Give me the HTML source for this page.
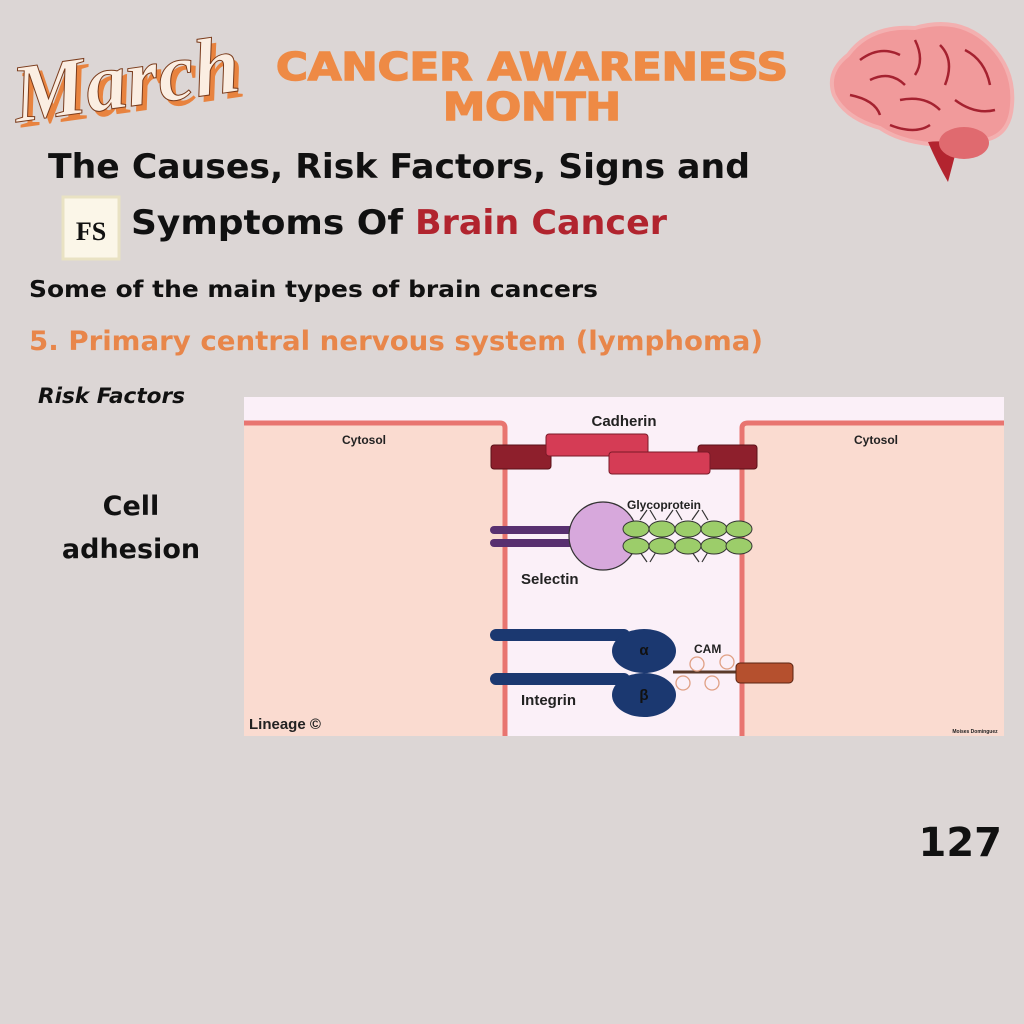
<!DOCTYPE html>
<html><head><meta charset="utf-8"><style>
html,body{margin:0;padding:0;background:#dcd6d5;}
body{width:1024px;height:1024px;overflow:hidden;position:relative;font-family:"Liberation Sans","DejaVu Sans",sans-serif;}
</style></head><body>
<svg width="1024" height="1024" viewBox="0 0 1024 1024" xmlns="http://www.w3.org/2000/svg" style="position:absolute;left:0;top:0">
<rect width="1024" height="1024" fill="#dcd6d5"/>
<text x="16" y="112" font-family="Liberation Serif,serif" font-style="italic" font-weight="bold" font-size="82" fill="#e8833f" transform="rotate(-8 130 80)">March</text>
<text x="12" y="106" font-family="Liberation Serif,serif" font-style="italic" font-weight="bold" font-size="82" fill="#fbeee2" stroke="#7a3b1b" stroke-width="1" transform="rotate(-8 130 80)">March</text>
<text x="532" y="80" text-anchor="middle" font-family="DejaVu Sans,sans-serif" font-weight="bold" font-size="38" fill="#ee8a45" stroke="#ee8a45" stroke-width="1.5" textLength="512" lengthAdjust="spacingAndGlyphs">CANCER AWARENESS</text>
<text x="532" y="120" text-anchor="middle" font-family="DejaVu Sans,sans-serif" font-weight="bold" font-size="38" fill="#ee8a45" stroke="#ee8a45" stroke-width="1.5" textLength="178" lengthAdjust="spacingAndGlyphs">MONTH</text>
<path d="M848 55 Q870 25 915 28 Q960 15 990 45 Q1015 70 1012 105 Q1010 135 985 140 L950 145 Q905 145 880 128 Q845 118 834 95 Q826 72 848 55Z" fill="#f19a9b" stroke="#f3b0b0" stroke-width="4"/>
<path d="M928 142 Q942 140 958 144 L948 182 Q938 165 928 142Z" fill="#b3242f"/>
<ellipse cx="964" cy="143" rx="25" ry="16" fill="#e06a6f"/>
<g fill="none" stroke="#a52230" stroke-width="2.5">
<path d="M860 60 Q880 45 900 55 M870 80 Q890 70 905 85 M915 40 Q925 60 915 75 M940 45 Q955 60 945 85 M965 50 Q985 60 990 85 M850 95 Q875 100 880 115 M900 100 Q925 95 940 110 M955 100 Q975 115 995 110 M890 125 Q915 135 930 125"/>
</g>
<text x="48" y="178" font-family="DejaVu Sans,sans-serif" font-weight="bold" font-size="34" fill="#111" textLength="702" lengthAdjust="spacingAndGlyphs">The Causes, Risk Factors, Signs and</text>
<rect x="63" y="197" width="56" height="62" fill="#fbf6e8" stroke="#e9e2c3" stroke-width="3"/>
<text x="91" y="240" text-anchor="middle" font-family="Liberation Serif,serif" font-weight="bold" font-size="26" fill="#111">FS</text>
<text x="131" y="234" font-family="DejaVu Sans,sans-serif" font-weight="bold" font-size="34" fill="#111" textLength="272" lengthAdjust="spacingAndGlyphs">Symptoms Of</text>
<text x="415" y="234" font-family="DejaVu Sans,sans-serif" font-weight="bold" font-size="34" fill="#b1242e" textLength="252" lengthAdjust="spacingAndGlyphs">Brain Cancer</text>
<text x="29" y="297" font-family="DejaVu Sans,sans-serif" font-weight="bold" font-size="23" fill="#111" textLength="569" lengthAdjust="spacingAndGlyphs">Some of the main types of brain cancers</text>
<text x="29" y="350" font-family="DejaVu Sans,sans-serif" font-weight="bold" font-size="27" fill="#e8864a" textLength="734" lengthAdjust="spacingAndGlyphs">5. Primary central nervous system (lymphoma)</text>
<text x="38" y="403" font-family="DejaVu Sans,sans-serif" font-style="italic" font-weight="bold" font-size="21" fill="#111" textLength="147" lengthAdjust="spacingAndGlyphs">Risk Factors</text>
<text x="131" y="515" text-anchor="middle" font-family="DejaVu Sans,sans-serif" font-weight="bold" font-size="27" fill="#111">Cell</text>
<text x="131" y="558" text-anchor="middle" font-family="DejaVu Sans,sans-serif" font-weight="bold" font-size="27" fill="#111">adhesion</text>
<rect x="244" y="397" width="760" height="339" fill="#fbf0f8"/>
<path d="M244 423 L500 423 Q505 423 505 428 L505 736 L244 736Z" fill="#fadbd0"/>
<path d="M244 423 L500 423 Q505 423 505 428 L505 736" fill="none" stroke="#e87570" stroke-width="5"/>
<path d="M1004 423 L748 423 Q742 423 742 428 L742 736 L1004 736Z" fill="#fadbd0"/>
<path d="M1004 423 L748 423 Q742 423 742 428 L742 736" fill="none" stroke="#e87570" stroke-width="5"/>
<text x="364" y="444" text-anchor="middle" font-size="12" font-weight="bold" fill="#222">Cytosol</text>
<text x="876" y="444" text-anchor="middle" font-size="12" font-weight="bold" fill="#222">Cytosol</text>
<text x="624" y="426" text-anchor="middle" font-size="15" font-weight="bold" fill="#222">Cadherin</text>
<rect x="491" y="445" width="60" height="24" rx="3" fill="#8e1f2c" stroke="#5a1018"/>
<rect x="698" y="445" width="59" height="24" rx="3" fill="#8e1f2c" stroke="#5a1018"/>
<rect x="546" y="434" width="102" height="22" rx="3" fill="#d53c55" stroke="#7a1a28"/>
<rect x="609" y="452" width="101" height="22" rx="3" fill="#d53c55" stroke="#7a1a28"/>
<rect x="490" y="526" width="92" height="8" rx="4" fill="#583070"/>
<rect x="490" y="539" width="92" height="8" rx="4" fill="#583070"/>
<circle cx="603" cy="536" r="34" fill="#d7a8dc" stroke="#333" stroke-width="1.2"/>
<text x="521" y="584" font-size="15" font-weight="bold" fill="#222">Selectin</text>
<text x="627" y="509" font-size="12" font-weight="bold" fill="#222">Glycoprotein</text>
<g stroke="#333" stroke-width="1.2"><path d="M640 520 L647 510 M656 520 L650 510 M666 520 L673 510 M682 520 L676 510 M692 520 L699 510 M708 520 L702 510 M640 552 L647 562 M656 552 L650 562 M692 552 L699 562 M708 552 L702 562"/></g>
<g fill="#9ccd6a" stroke="#333" stroke-width="1">
<ellipse cx="636" cy="529" rx="13" ry="8"/><ellipse cx="662" cy="529" rx="13" ry="8"/><ellipse cx="688" cy="529" rx="13" ry="8"/><ellipse cx="714" cy="529" rx="13" ry="8"/><ellipse cx="739" cy="529" rx="13" ry="8"/>
<ellipse cx="636" cy="546" rx="13" ry="8"/><ellipse cx="662" cy="546" rx="13" ry="8"/><ellipse cx="688" cy="546" rx="13" ry="8"/><ellipse cx="714" cy="546" rx="13" ry="8"/><ellipse cx="739" cy="546" rx="13" ry="8"/>
</g>
<rect x="490" y="629" width="140" height="12" rx="6" fill="#1b3870"/>
<ellipse cx="644" cy="651" rx="32" ry="22" fill="#1b3870"/>
<rect x="490" y="673" width="140" height="12" rx="6" fill="#1b3870"/>
<ellipse cx="644" cy="695" rx="32" ry="22" fill="#1b3870"/>
<text x="644" y="655" text-anchor="middle" font-size="15" font-weight="bold" fill="#111">α</text>
<text x="644" y="700" text-anchor="middle" font-size="15" font-weight="bold" fill="#111">β</text>
<text x="521" y="705" font-size="15" font-weight="bold" fill="#222">Integrin</text>
<text x="694" y="653" font-size="12" font-weight="bold" fill="#222">CAM</text>
<line x1="673" y1="672" x2="740" y2="672" stroke="#5a3a2a" stroke-width="3"/>
<g fill="none" stroke="#e0a084" stroke-width="1.3"><circle cx="697" cy="664" r="7"/><circle cx="727" cy="662" r="7"/><circle cx="683" cy="683" r="7"/><circle cx="712" cy="683" r="7"/></g>
<rect x="736" y="663" width="57" height="20" rx="4" fill="#b5502e" stroke="#5a2412"/>
<text x="249" y="729" font-size="15" font-weight="bold" fill="#222">Lineage ©</text>
<text x="975" y="733" text-anchor="middle" font-size="5" font-weight="bold" fill="#222">Moises Dominguez</text>
<text x="1002" y="856" text-anchor="end" font-family="DejaVu Sans,sans-serif" font-weight="bold" font-size="40" fill="#111">127</text>
</svg>
</body></html>
